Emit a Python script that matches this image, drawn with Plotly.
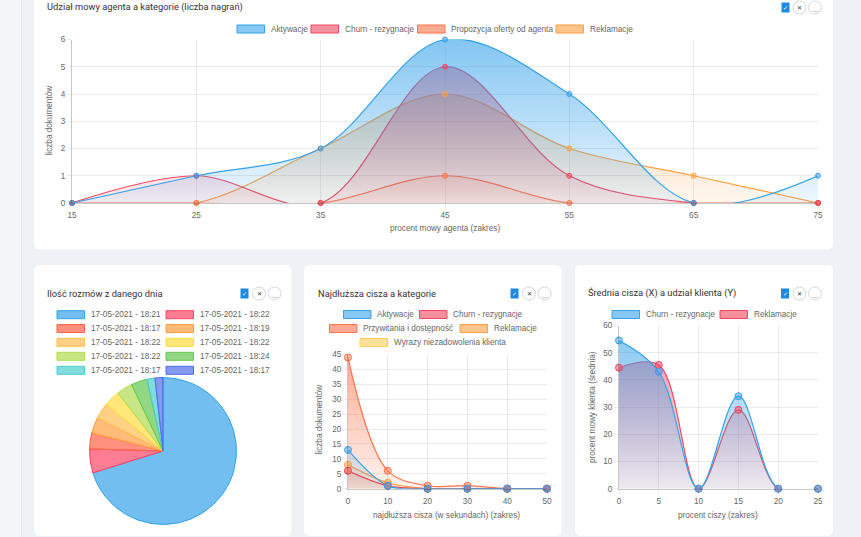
import plotly.graph_objects as go

# ---------------- data ----------------
top_x = [15, 25, 35, 45, 55, 65, 75]
top_names = ["Aktywacje", "Churn - rezygnacje", "Propozycja oferty od agenta", "Reklamacje"]
top_aktywacje = [0, 1, 2, 6, 4, 0, 1]
top_churn = [0, 1, 0, 5, 1, 0, 0]
top_propozycja = [0, 0, 0, 1, 0, 0, 0]
top_reklamacje = [0, 0, 2, 4, 2, 1, 0]
top_yticks = [0, 1, 2, 3, 4, 5, 6]

pie_labels = ["17-05-2021 - 18:21", "17-05-2021 - 18:22", "17-05-2021 - 18:17",
              "17-05-2021 - 18:19", "17-05-2021 - 18:22", "17-05-2021 - 18:22",
              "17-05-2021 - 18:22", "17-05-2021 - 18:24", "17-05-2021 - 18:17",
              "17-05-2021 - 18:17"]
pie_values = [40, 3, 2, 2, 2, 2, 2, 2, 1, 1]

mid_x = [0, 10, 20, 30, 40, 50]
mid_names = ["Aktywacje", "Churn - rezygnacje", "Przywitania i dostępność",
             "Reklamacje", "Wyrazy niezadowolenia klienta"]
mid_aktywacje = [13, 1, 0, 0, 0, 0]
mid_churn = [6, 1, 0, 0, 0, 0]
mid_przywitania = [44, 6, 1, 1, 0, 0]
mid_reklamacje = [8, 2, 0, 0, 0, 0]
mid_wyrazy = [6, 1, 0, 0, 0, 0]
mid_yticks = [0, 5, 10, 15, 20, 25, 30, 35, 40, 45]

right_x = [0, 5, 10, 15, 20, 25]
right_names = ["Churn - rezygnacje", "Reklamacje"]
right_churn = [54.5, 43, 0, 34, 0, 0]
right_reklamacje = [44.5, 45.5, 0, 29, 0, 0]
right_yticks = [0, 10, 20, 30, 40, 50, 60]

titles = ["Udział mowy agenta a kategorie (liczba nagrań)", "Ilość rozmów z danego dnia",
          "Najdłuższa cisza a kategorie", "Średnia cisza (X) a udział klienta (Y)"]

# ---------------- styling ----------------
W, H = 861, 537
def px(x): return x / W
def py(y): return 1 - y / H
def rgba(c, a): return "rgba(%d,%d,%d,%s)" % (c[0], c[1], c[2], a)

BLUE = (54, 162, 235)
RED = (240, 70, 95)
CORAL = (255, 115, 75)
ORANGE = (255, 159, 64)
YELLOW = (255, 205, 86)
PIE_COLORS = [(54, 162, 235), (255, 70, 100), (255, 99, 71), (255, 159, 64), (255, 190, 80),
              (255, 221, 64), (177, 220, 80), (100, 200, 80), (75, 205, 205), (80, 110, 235)]

TICKFONT = dict(family="Liberation Sans, Arial, sans-serif", size=8.2, color="#666")
TITLEFONT = dict(family="Roboto, sans-serif", size=9.3, color="#333")
GRID = "rgba(0,0,0,0.08)"
AXLINE = "rgba(0,0,0,0.22)"

fig = go.Figure()

def area(x, y, name, c, xa, ya, ymax, lw=1.2):
    # line + gradient fill, clipped to the plot area
    fig.add_trace(go.Scatter(
        x=x, y=y, name=name, xaxis=xa, yaxis=ya, mode="lines",
        line=dict(color=rgba(c, 1), width=lw, shape="spline", smoothing=1.0),
        fill="tozeroy",
        fillgradient=dict(type="vertical", start=0, stop=ymax,
                          colorscale=[[0, rgba(c, 0.08)], [1, rgba(c, 0.62)]]),
        showlegend=False, cliponaxis=True, hoverinfo="skip"))

def points(x, y, name, c, xa, ya, msize):
    fig.add_trace(go.Scatter(
        x=x, y=y, name=name, xaxis=xa, yaxis=ya, mode="markers",
        marker=dict(size=msize, color=rgba(c, 0.5), line=dict(color=rgba(c, 1), width=1)),
        showlegend=False, cliponaxis=False))

# top chart (drawn in reverse so the first dataset is on top)
top_series = [top_aktywacje, top_churn, top_propozycja, top_reklamacje]
top_colors = [BLUE, RED, CORAL, ORANGE]
for i in reversed(range(4)):
    area(top_x, top_series[i], top_names[i], top_colors[i], "x", "y", 6)
for i in reversed(range(4)):
    points(top_x, top_series[i], top_names[i], top_colors[i], "x", "y", 5)

# middle chart
mid_series = [mid_aktywacje, mid_churn, mid_przywitania, mid_reklamacje, mid_wyrazy]
mid_colors = [BLUE, RED, CORAL, ORANGE, YELLOW]
for i in reversed(range(5)):
    area(mid_x, mid_series[i], mid_names[i], mid_colors[i], "x2", "y2", 45)
for i in reversed(range(5)):
    points(mid_x, mid_series[i], mid_names[i], mid_colors[i], "x2", "y2", 7)

# right chart
right_series = [right_churn, right_reklamacje]
right_colors = [BLUE, RED]
for i in reversed(range(2)):
    area(right_x, right_series[i], right_names[i], right_colors[i], "x3", "y3", 60)
for i in reversed(range(2)):
    points(right_x, right_series[i], right_names[i], right_colors[i], "x3", "y3", 7)

# pie
pcx, pcy, pr = 163, 451, 73.5
fig.add_trace(go.Pie(
    labels=["%d. %s" % (i + 1, l) for i, l in enumerate(pie_labels)],
    hovertext=pie_labels, values=pie_values, sort=False, direction="clockwise", rotation=0,
    textinfo="none", showlegend=False,
    marker=dict(colors=[rgba(c, 0.7) for c in PIE_COLORS],
                line=dict(color=[rgba(c, 1) for c in PIE_COLORS], width=1)),
    domain=dict(x=[px(pcx - pr), px(pcx + pr)], y=[py(pcy + pr), py(pcy - pr)])))

def axis(dom, rng, tickvals, anchor):
    return dict(domain=dom, range=rng, tickvals=tickvals, anchor=anchor, showgrid=True,
                gridcolor=GRID, gridwidth=1, zeroline=False, showline=True, linecolor=AXLINE,
                linewidth=1, ticks="outside", ticklen=4, tickcolor=GRID, tickfont=TICKFONT,
                fixedrange=True, automargin=False)

layout_axes = dict(
    xaxis=axis([px(72), px(818)], [15, 75], top_x, "y"),
    yaxis=axis([py(203), py(39.5)], [0, 6], top_yticks, "x"),
    xaxis2=axis([px(348), px(547)], [0, 50], mid_x, "y2"),
    yaxis2=axis([py(488.7), py(354.5)], [0, 45], mid_yticks, "x2"),
    xaxis3=axis([px(619), px(818)], [0, 25], right_x, "y3"),
    yaxis3=axis([py(488.7), py(325.5)], [0, 60], right_yticks, "x3"),
)

shapes = []
annotations = []

# sidebar / background decorations
shapes.append(dict(type="rect", xref="paper", yref="paper", x0=0, x1=px(21.5), y0=0, y1=1,
                   fillcolor="#f3f5f8", line=dict(width=0), layer="below"))
shapes.append(dict(type="line", xref="paper", yref="paper", x0=px(21.5), x1=px(21.5), y0=0, y1=1,
                   line=dict(color="#e3e7ec", width=1), layer="below"))

def card(x0, y0, x1, y1, r=6):
    X0, X1 = px(x0), px(x1)
    Y0, Y1 = py(y0), py(y1)
    rx, ry = r / W, r / H
    path = ("M %f,%f L %f,%f Q %f,%f %f,%f L %f,%f Q %f,%f %f,%f L %f,%f Q %f,%f %f,%f "
            "L %f,%f Q %f,%f %f,%f Z") % (
        X0 + rx, Y0, X1 - rx, Y0, X1, Y0, X1, Y0 - ry, X1, Y1 + ry, X1, Y1, X1 - rx, Y1,
        X0 + rx, Y1, X0, Y1, X0, Y1 + ry, X0, Y0 - ry, X0, Y0, X0 + rx, Y0)
    shapes.append(dict(type="path", xref="paper", yref="paper", path=path,
                       fillcolor="white", line=dict(width=0), layer="below"))

card(34, -20, 833, 249.5)
card(34, 265, 291.5, 536)
card(304, 265, 561.5, 536)
card(575, 265, 833, 536)

def text(t, x, y, font, xanchor="center", yanchor="middle", angle=0):
    annotations.append(dict(text=t, x=px(x), y=py(y), xref="paper", yref="paper",
                            xanchor=xanchor, yanchor=yanchor, showarrow=False,
                            textangle=angle, font=font))

text(titles[0], 45, 7.3, TITLEFONT, "left")
text(titles[1], 45, 293, TITLEFONT, "left")
text(titles[2], 315.5, 293, TITLEFONT, "left")
text(titles[3], 586, 293, TITLEFONT, "left")

ICONFONT = dict(size=6, color="#333", family="DejaVu Sans")
def icons(xc, x1, x2, y):
    shapes.append(dict(type="rect", xref="paper", yref="paper", x0=px(xc - 4), x1=px(xc + 4),
                       y0=py(y + 5), y1=py(y - 5), fillcolor="#1e88e5", line=dict(width=0)))
    text("✓", xc, y, dict(size=6, color="white", family="DejaVu Sans"))
    for cx in (x1, x2):
        shapes.append(dict(type="circle", xref="paper", yref="paper", x0=px(cx - 6.5),
                           x1=px(cx + 6.5), y0=py(y + 6.5), y1=py(y - 6.5),
                           fillcolor="white", line=dict(color="#d8d8d8", width=1)))
    text("✕", x1, y, ICONFONT)
    text("…", x2, y + 1.5, ICONFONT)

icons(785.5, 799.5, 815, 7.5)
icons(244.5, 259, 274.5, 293.5)
icons(514.5, 529, 544.5, 293.5)
icons(785, 799.5, 815, 293.5)

def legend_item(name, c, bx, by, alpha=0.6, bw=27.5, bh=8):
    shapes.append(dict(type="rect", xref="paper", yref="paper", x0=px(bx), x1=px(bx + bw),
                       y0=py(by + bh / 2), y1=py(by - bh / 2), fillcolor=rgba(c, alpha),
                       line=dict(color=rgba(c, 1), width=1)))
    text(name, bx + bw + 4, by, TICKFONT, "left")

for name, c, bx in zip(top_names, top_colors, [237, 311, 417.5, 556]):
    legend_item(name, c, bx, 29)

pie_cols = [57, 166]
pie_rows = [314.7, 328.5, 342.3, 356.3, 370.3]
for i, (name, c) in enumerate(zip(pie_labels, PIE_COLORS)):
    legend_item(name, c, pie_cols[i % 2], pie_rows[i // 2], alpha=0.7)

mid_pos = [(343.5, 314.5), (419.5, 314.5), (329.5, 328.5), (460, 328.5), (360, 342.5)]
for name, c, (bx, by) in zip(mid_names, mid_colors, mid_pos):
    legend_item(name, c, bx, by)

for name, c, bx in zip(right_names, right_colors, [612, 720]):
    legend_item(name, c, bx, 314.5)

AXT = dict(family="Liberation Sans, Arial, sans-serif", size=8.2, color="#666")
text("liczba dokumentów", 48.5, 121, AXT, angle=-90)
text("procent mowy agenta (zakres)", 445, 229, AXT)
text("liczba dokumentów", 318.5, 420, AXT, angle=-90)
text("najdłuższa cisza (w sekundach) (zakres)", 447, 515, AXT)
text("procent mowy klienta (średnia)", 592, 407, AXT, angle=-90)
text("procent ciszy (zakres)", 718, 515, AXT)

fig.update_layout(
    width=W, height=H, margin=dict(l=0, r=0, t=0, b=0, autoexpand=False),
    paper_bgcolor="#eef1f5", plot_bgcolor="rgba(0,0,0,0)",
    shapes=shapes, annotations=annotations, hovermode="closest",
    **layout_axes)

fig.write_html("out.html",
               post_script="document.body.style.margin='0';document.body.style.overflow='hidden';")
